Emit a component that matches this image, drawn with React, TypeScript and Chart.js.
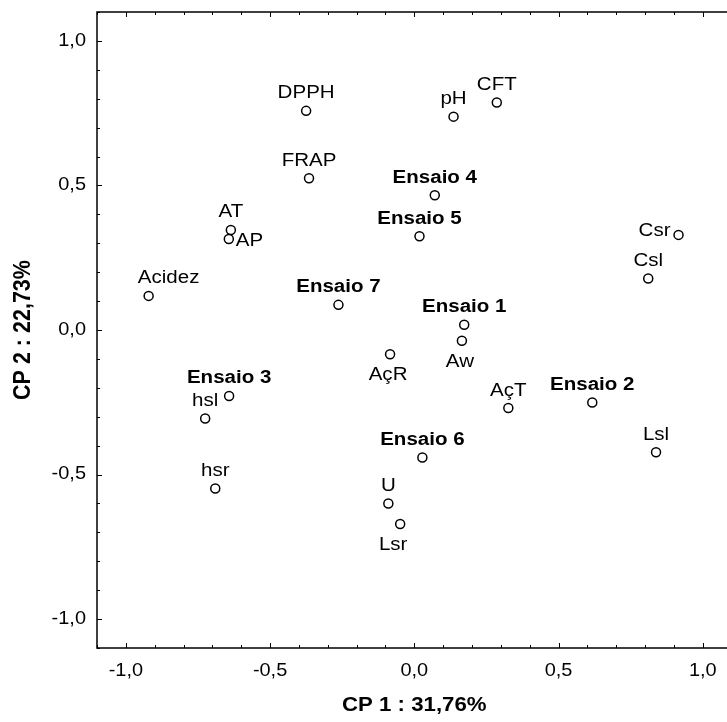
import React, { useEffect, useRef } from "react";
import { Chart, registerables } from "chart.js";

Chart.register(...registerables);

// ---- data ----
const varLabels = ["DPPH", "FRAP", "AT", "AP", "Acidez", "pH", "CFT", "Csr", "Csl", "AçR", "Aw", "AçT", "hsl", "hsr", "U", "Lsr", "Lsl"];
const varCp1 = [-0.375, -0.365, -0.636, -0.643, -0.921, 0.136, 0.286, 0.916, 0.811, -0.084, 0.165, 0.326, -0.725, -0.69, -0.09, -0.049, 0.838];
const varCp2 = [0.758, 0.525, 0.346, 0.315, 0.118, 0.738, 0.787, 0.329, 0.178, -0.084, -0.037, -0.27, -0.306, -0.548, -0.6, -0.671, -0.423];

const trialLabels = ["Ensaio 1", "Ensaio 2", "Ensaio 3", "Ensaio 4", "Ensaio 5", "Ensaio 6", "Ensaio 7"];
const trialCp1 = [0.173, 0.617, -0.642, 0.071, 0.018, 0.028, -0.263];
const trialCp2 = [0.018, -0.251, -0.228, 0.466, 0.324, -0.441, 0.087];

const majorTicks = [-1.0, -0.5, 0.0, 0.5, 1.0];
const minorTicks = [-1.1, -1.0, -0.9, -0.8, -0.7, -0.6, -0.5, -0.4, -0.3, -0.2, -0.1, 0.0, 0.1, 0.2, 0.3, 0.4, 0.5, 0.6, 0.7, 0.8, 0.9, 1.0, 1.1];

const xTitle = "CP 1 : 31,76%";
const yTitle = "CP 2 : 22,73%";

// label placement (style), per point
const varPlacement = ["above", "above", "above", "right", "aboveRight", "above", "above", "left", "above", "below", "below", "above", "above", "above", "above", "belowLeft", "above"];
const trialPlacement = ["above", "above", "above", "above", "above", "above", "above"];

// ---- style ----
const FONT = "'Liberation Sans', Arial, sans-serif";
const SX = 1.14;
const W = 760;
const H = 722;

const placementOffsets: Record<string, { dx: number; dy: number; align: CanvasTextAlign }> = {
  above: { dx: 0, dy: -17.5, align: "center" },
  below: { dx: -2, dy: 21, align: "center" },
  belowLeft: { dx: -7, dy: 21, align: "center" },
  right: { dx: 7, dy: 2, align: "left" },
  left: { dx: -8, dy: -4, align: "right" },
  aboveRight: { dx: 20, dy: -17.5, align: "center" },
};

function sText(ctx: CanvasRenderingContext2D, text: string, x: number, y: number, align: CanvasTextAlign, font: string) {
  ctx.save();
  ctx.font = font;
  ctx.textAlign = align;
  ctx.textBaseline = "middle";
  ctx.fillStyle = "#000";
  ctx.translate(x, y);
  ctx.scale(SX, 1);
  ctx.fillText(text, 0, 0);
  ctx.restore();
}

const fmt = (v: number) => v.toFixed(1).replace(".", ",");

const framePlugin = {
  id: "pcaFrame",
  beforeDatasetsDraw(chart: any) {
    const { ctx, chartArea: a, scales } = chart;
    const xs = scales.x;
    const ys = scales.y;
    ctx.save();
    ctx.strokeStyle = "#000";
    ctx.lineWidth = 1.5;
    ctx.strokeRect(a.left, a.top, a.right - a.left, a.bottom - a.top);
    ctx.lineWidth = 1;
    ctx.beginPath();
    for (const v of minorTicks) {
      const len = majorTicks.some((m) => Math.abs(m - v) < 1e-9) ? 5 : 3;
      const px = Math.round(xs.getPixelForValue(v)) + 0.5;
      ctx.moveTo(px, a.bottom);
      ctx.lineTo(px, a.bottom - len);
      ctx.moveTo(px, a.top);
      ctx.lineTo(px, a.top + len);
      const py = Math.round(ys.getPixelForValue(v)) + 0.5;
      ctx.moveTo(a.left, py);
      ctx.lineTo(a.left + len, py);
    }
    ctx.stroke();
    ctx.restore();

    const tickFont = `17.5px ${FONT}`;
    for (const v of majorTicks) {
      sText(ctx, fmt(v), xs.getPixelForValue(v), a.bottom + 23, "center", tickFont);
      sText(ctx, fmt(v), a.left - 11, ys.getPixelForValue(v), "right", tickFont);
    }
    // axis titles
    sText(ctx, xTitle, (a.left + xs.getPixelForValue(1.1)) / 2, a.bottom + 58, "center", `bold 19.5px ${FONT}`);
    ctx.save();
    ctx.font = `bold 21.5px ${FONT}`;
    ctx.textAlign = "center";
    ctx.textBaseline = "middle";
    ctx.fillStyle = "#000";
    ctx.translate(23, (a.top + a.bottom) / 2);
    ctx.rotate(-Math.PI / 2);
    ctx.scale(1, SX);
    ctx.fillText(yTitle, 0, 0);
    ctx.restore();
  },
  afterDatasetsDraw(chart: any) {
    const { ctx } = chart;
    const groups = [
      { labels: varLabels, place: varPlacement, font: `18px ${FONT}` },
      { labels: trialLabels, place: trialPlacement, font: `bold 18px ${FONT}` },
    ];
    groups.forEach((g, di) => {
      const meta = chart.getDatasetMeta(di);
      meta.data.forEach((el: any, i: number) => {
        const o = placementOffsets[g.place[i]];
        sText(ctx, g.labels[i], el.x + o.dx, el.y + o.dy, o.align, g.font);
      });
    });
  },
};

export default function App() {
  const ref = useRef<HTMLCanvasElement | null>(null);

  useEffect(() => {
    if (!ref.current) return;
    const pointStyle = {
      pointRadius: 4.5,
      pointHoverRadius: 4.5,
      pointBorderWidth: 1.5,
      pointBorderColor: "#000",
      pointBackgroundColor: "#fff",
      showLine: false,
    };
    const chart = new Chart(ref.current, {
      type: "scatter",
      data: {
        datasets: [
          { label: "Variáveis", data: varCp1.map((x, i) => ({ x, y: varCp2[i] })), ...pointStyle },
          { label: "Ensaios", data: trialCp1.map((x, i) => ({ x, y: trialCp2[i] })), ...pointStyle },
        ],
      },
      options: {
        animation: false,
        responsive: false,
        devicePixelRatio: 1,
        layout: { padding: { left: 0, top: 12, right: W - 731.6, bottom: 0 } },
        plugins: { legend: { display: false }, tooltip: { enabled: false }, title: { display: false } },
        scales: {
          x: {
            type: "linear",
            min: -1.1,
            max: 1.1,
            grid: { display: false, drawTicks: false },
            border: { display: false },
            ticks: { display: false },
            afterFit: (s: any) => {
              s.height = 74;
            },
          },
          y: {
            type: "linear",
            min: -1.1,
            max: 1.1,
            grid: { display: false, drawTicks: false },
            border: { display: false },
            ticks: { display: false },
            afterFit: (s: any) => {
              s.width = 97;
            },
          },
        },
      },
      plugins: [framePlugin],
    });
    return () => chart.destroy();
  }, []);

  return (
    <div style={{ position: "fixed", left: 0, top: 0, width: 727, height: 722, overflow: "hidden", background: "#fff" }}>
      <canvas ref={ref} width={W} height={H} style={{ display: "block", width: W, height: H }} />
    </div>
  );
}
